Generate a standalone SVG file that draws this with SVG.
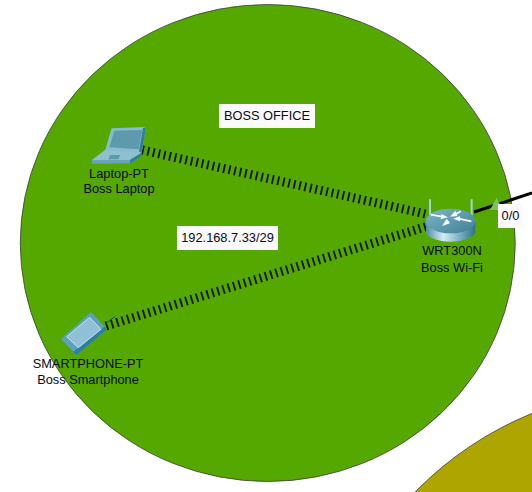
<svg xmlns="http://www.w3.org/2000/svg" width="532" height="492" viewBox="0 0 532 492">
<style>
text{font-family:"Liberation Sans",Arial,sans-serif;font-size:12.8px;fill:#0a0a14;text-anchor:middle}
.area{stroke:#3c3c3c;stroke-width:.8}
.wifi{fill:none;stroke:#141c08;stroke-width:9;stroke-dasharray:1.9 3.65}
.lbl{fill:#fafaff}
</style>
<defs>
<linearGradient id="rb" x1="0" x2="1" y1="0" y2="0"><stop offset="0" stop-color="#4f8ea5"/><stop offset=".35" stop-color="#d4ecf2"/><stop offset=".6" stop-color="#8fc0cf"/><stop offset="1" stop-color="#2f7288"/></linearGradient>
<linearGradient id="rt" x1="0" x2="1" y1="0" y2="1"><stop offset="0" stop-color="#7fb5c8"/><stop offset="1" stop-color="#3f8098"/></linearGradient>
</defs>
<ellipse class="area" cx="267.75" cy="243" rx="247.5" ry="238.5" fill="#55a800"/>
<circle class="area" cx="662" cy="733" r="345" fill="#aea500"/>
<g id="connectors">
<path class="wifi" d="M142 150L430 215"/>
<path class="wifi" d="M106 326L428 226"/>
<path d="M474 212L532 193" fill="none" stroke="#000" stroke-width="3"/>
<path d="M105 324L115 316.500" fill="none" stroke="#1c4f8c" stroke-width="1"/>
<path d="M496.500 198L490 210L503 210Z" fill="#7cc35a"/>
</g>
<g id="boss-office"><rect class="lbl" x="219" y="104" width="96" height="24"/><text x="267" y="120">BOSS OFFICE</text></g>
<g id="subnet"><rect class="lbl" x="177" y="226" width="101" height="24"/><text x="227.500" y="242">192.168.7.33/29</text></g>
<g id="port"><rect class="lbl" x="498" y="204" width="25" height="24"/><text x="510.500" y="220">0/0</text></g>
<g id="laptop">
<g transform="translate(70 110) scale(.3333)">
<path d="M125 55L228 51L215 130L105 122Z" fill="#86bdd0"/>
<path d="M133 62L216 60L206 118L118 112Z" fill="#5f99ac"/>
<path d="M228 51L215 130L207 124L219 55Z" fill="#2b7ea5"/>
<path d="M105 120L215 128L180 150L66 150Z" fill="#8fc0cf"/>
<path d="M66 150L180 150L180 160L66 161Z" fill="#6ba2b5"/>
<path d="M180 150L215 128L215 137L180 161Z" fill="#2b7ea5"/>
<path d="M120 135L150 135L146 148L115 148Z" fill="#5f99ac"/>
</g>
<text x="119" y="178">Laptop-PT</text><text x="119" y="193">Boss Laptop</text>
</g>
<g id="router">
<g transform="translate(400 180) scale(.3333)">
<path d="M87 58h6v50h-6zM212 58h6v50h-6z" fill="#a8d0dc"/>
<path d="M78 125V155C80 172 115 185 152 185C190 185 224 172 226 155V125Z" fill="url(#rb)"/>
<ellipse cx="152" cy="123" rx="74" ry="37" fill="url(#rt)"/>
<path d="M92 104L126 110M182 94L164 104M214 124L176 116M132 134L146 124" stroke="#f4fbfd" stroke-width="5" fill="none"/>
<path d="M144 112L124 102L122 118ZM150 110L166 92L172 108ZM160 116L180 108L180 124ZM126 138L140 116L150 130Z" fill="#f4fbfd"/>
</g>
<text x="452" y="255">WRT300N</text><text x="452" y="272">Boss Wi-Fi</text>
</g>
<g id="smartphone">
<g transform="translate(25 300) scale(.3333)">
<path d="M198 36L246 88L155 165L108 117Z" fill="#5aa2c2"/>
<path d="M246 88L155 165L145 155L238 80Z" fill="#2b7ea5"/>
<path d="M194 52L228 88L160 143L125 110Z" fill="#8fc0d5" stroke="#d4e9f1" stroke-width="2.500"/>
</g>
<text x="88" y="368">SMARTPHONE-PT</text><text x="88" y="384">Boss Smartphone</text>
</g>
</svg>
